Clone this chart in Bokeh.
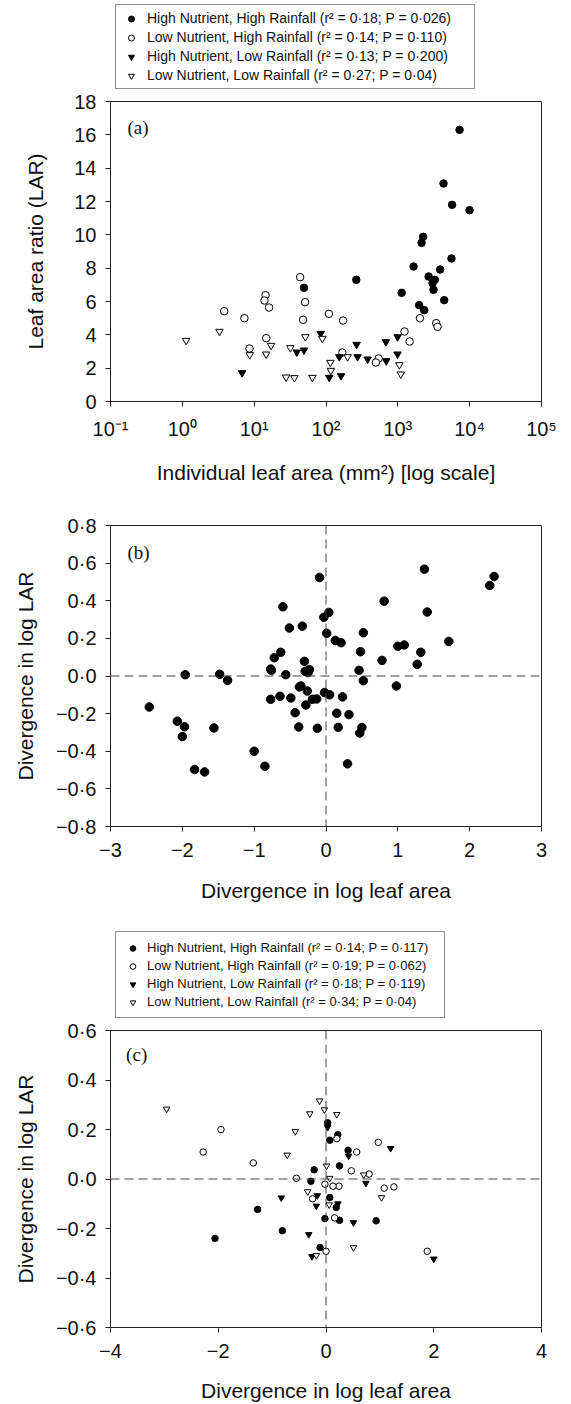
from bokeh.plotting import figure
from bokeh.layouts import column
from bokeh.models import (FixedTicker, CustomJSTickFormatter, Legend, LegendItem,
                          Span, Label, Range1d)
from bokeh.embed import file_html
from bokeh.resources import INLINE

# ---------------- Panel (a): LAR vs individual leaf area (mm2) ----------------
a_hnhr_area = [7230, 4325, 5700, 9950, 2250, 2140, 5580, 1655, 3880, 2680, 3270,
               3040, 3140, 4420, 1130, 1980, 2330, 264, 49.4]
a_hnhr_lar = [16.30, 13.08, 11.80, 11.48, 9.88, 9.52, 8.58, 8.10, 7.92, 7.50, 7.30,
              7.10, 6.70, 6.08, 6.52, 5.78, 5.48, 7.30, 6.82]

a_lnhr_area = [3.82, 7.31, 14.4, 13.9, 16.1, 43.6, 51.1, 47.9, 110, 173, 14.7, 8.6,
               169, 541, 495, 2030, 3420, 3570, 1240, 1460]
a_lnhr_lar = [5.42, 5.00, 6.38, 6.06, 5.64, 7.46, 5.96, 4.90, 5.26, 4.86, 3.80, 3.18,
              2.94, 2.58, 2.34, 5.00, 4.70, 4.48, 4.20, 3.60]

a_hnlr_area = [6.8, 39.2, 49.4, 84.3, 153, 267, 275, 380, 682, 690, 993, 990, 111, 162]
a_hnlr_lar = [1.72, 2.96, 3.08, 4.08, 2.68, 3.42, 2.68, 2.54, 3.58, 2.44, 3.88, 2.84,
              1.44, 1.54]

a_lnlr_area = [1.13, 3.29, 8.69, 14.7, 17.2, 31.9, 51.6, 88.9, 115, 117, 200, 27.8,
               36.3, 64.6, 1050, 1100]
a_lnlr_lar = [3.66, 4.20, 2.80, 2.84, 3.36, 3.22, 3.88, 3.78, 2.34, 1.86, 2.68, 1.46,
              1.42, 1.44, 2.20, 1.64]

a_labels = ["High Nutrient, High Rainfall (r\u00b2 = 0\u00b718; P = 0\u00b7026)",
            "Low Nutrient, High Rainfall (r\u00b2 = 0\u00b714; P = 0\u00b7110)",
            "High Nutrient, Low Rainfall (r\u00b2 = 0\u00b713; P = 0\u00b7200)",
            "Low Nutrient, Low Rainfall (r\u00b2 = 0\u00b727; P = 0\u00b704)"]
a_xticks = [0.1, 1, 10, 100, 1000, 10000, 100000]
a_yticks = [0, 2, 4, 6, 8, 10, 12, 14, 16, 18]

# ---------------- Panel (b): divergences (all species pairs) ----------------
b_dx = [-2.46, -1.96, -2.07, -1.97, -2.00, -1.56, -1.48, -1.37, -0.60, -0.51, -0.33,
        -0.72, -0.63, -0.77, -0.76, -0.56, -0.30, -0.29, -0.23, -0.25, -0.09, -0.03,
        0.04, 0.01, 0.13, 0.21, 0.52, 0.48, 0.46, 0.52, 0.81, 0.78, 1.00, 1.09, 0.98,
        1.37, 1.41, 1.32, 1.27, 1.71, 2.28, 2.34, -0.77, -0.64, -0.49, -0.37, -0.35,
        -0.26, -0.28, -0.19, -0.13, -0.43, -0.38, -0.12, -0.02, 0.05, 0.23, 0.15,
        0.32, 0.17, 0.50, 0.47, -1.00, -0.85, -1.83, -1.69, 0.30]
b_dy = [-0.165, 0.007, -0.24, -0.27, -0.322, -0.276, 0.009, -0.023, 0.368, 0.255,
        0.265, 0.097, 0.126, 0.037, 0.030, 0.007, 0.078, 0.025, 0.034, 0.018, 0.524,
        0.312, 0.338, 0.227, 0.189, 0.177, 0.230, 0.129, 0.030, -0.025, 0.398, 0.083,
        0.158, 0.165, -0.053, 0.568, 0.340, 0.126, 0.062, 0.184, 0.481, 0.529,
        -0.124, -0.108, -0.117, -0.058, -0.053, -0.080, -0.154, -0.124, -0.122,
        -0.195, -0.271, -0.278, -0.088, -0.100, -0.111, -0.198, -0.205, -0.273,
        -0.274, -0.303, -0.400, -0.480, -0.497, -0.510, -0.467]
b_xticks = [-3, -2, -1, 0, 1, 2, 3]
b_yticks = [-0.8, -0.6, -0.4, -0.2, 0.0, 0.2, 0.4, 0.6, 0.8]

# ---------------- Panel (c): divergences by habitat ----------------
c_hnhr_dx = [0.03, 0.22, 0.07, 0.41, -0.22, 0.25, -0.28, 0.07, 0.19, -1.27, -0.02,
             0.25, 0.93, -0.81, -2.06, -0.11]
c_hnhr_dy = [0.227, 0.179, 0.157, 0.116, 0.037, 0.053, -0.009, -0.075, -0.115,
             -0.123, -0.160, -0.167, -0.169, -0.209, -0.240, -0.277]
c_lnhr_dx = [-1.95, -2.28, -1.35, -0.55, -0.02, -0.25, 0.20, 0.57, 0.97, 0.47, 0.80,
             0.24, 0.13, 1.08, 1.26, 0.16, 0.00, 1.88]
c_lnhr_dy = [0.200, 0.109, 0.065, 0.003, -0.021, -0.080, 0.163, 0.109, 0.148, 0.033,
             0.020, -0.029, -0.029, -0.037, -0.032, -0.157, -0.292, -0.292]
c_hnlr_dx = [0.03, 0.42, 1.20, 0.74, -0.83, -0.16, -0.18, 0.22, -0.32, 0.51, -0.26,
             2.00]
c_hnlr_dy = [0.209, 0.093, 0.124, -0.017, -0.076, -0.067, -0.109, -0.100, -0.224,
             -0.176, -0.313, -0.323]
c_lnlr_dx = [-2.96, -0.12, -0.30, -0.03, 0.20, -0.57, -0.72, 0.01, 0.07, -0.34, 0.06,
             0.70, 1.03, 0.51, -0.18]
c_lnlr_dy = [0.283, 0.316, 0.264, 0.280, 0.261, 0.192, 0.097, 0.053, 0.003, -0.051,
             -0.104, 0.017, -0.075, -0.277, -0.309]
c_labels = ["High Nutrient, High Rainfall (r\u00b2 = 0\u00b714; P = 0\u00b7117)",
            "Low Nutrient, High Rainfall (r\u00b2 = 0\u00b719; P = 0\u00b7062)",
            "High Nutrient, Low Rainfall (r\u00b2 = 0\u00b718; P = 0\u00b7119)",
            "Low Nutrient, Low Rainfall (r\u00b2 = 0\u00b734; P = 0\u00b704)"]
c_xticks = [-4, -2, 0, 2, 4]
c_yticks = [-0.6, -0.4, -0.2, 0.0, 0.2, 0.4, 0.6]

# ---------------- styling helpers ----------------
SANS = "Liberation Sans"
SERIF = "Liberation Serif"
INK = "#222222"
W = 571
GROUP_STYLE = [("circle", "black"), ("circle", "white"),
               ("inverted_triangle", "black"), ("inverted_triangle", "white")]

dec_fmt = CustomJSTickFormatter(code="""
    return tick.toFixed(1).replace('-', '\u2212').replace('.', '\u00b7');
""")
int_fmt = CustomJSTickFormatter(code="""
    return tick.toFixed(0).replace('-', '\u2212');
""")
log_fmt = CustomJSTickFormatter(code="""
    const sup = {'-':'\u207b','0':'\u2070','1':'\u00b9','2':'\u00b2','3':'\u00b3',
                 '4':'\u2074','5':'\u2075','6':'\u2076','7':'\u2077','8':'\u2078','9':'\u2079'};
    const e = Math.round(Math.log10(tick));
    return '10' + String(e).split('').map(c => sup[c]).join('');
""")


def style(p, xstand, ystand):
    p.grid.visible = False
    p.outline_line_color = INK
    p.outline_line_width = 1
    p.outline_line_alpha = 1
    for ax in (p.xaxis[0], p.yaxis[0]):
        ax.axis_line_color = INK
        ax.major_tick_line_color = INK
        ax.major_tick_in = 0
        ax.major_tick_out = 5
        ax.minor_tick_line_color = None
        ax.major_label_text_font = SANS
        ax.major_label_text_font_size = "20px"
        ax.major_label_text_color = "#111111"
        ax.axis_label_text_font = SANS
        ax.axis_label_text_font_size = "21px"
        ax.axis_label_text_font_style = "normal"
        ax.axis_label_text_color = "#111111"
    p.xaxis[0].major_label_standoff = 11
    p.yaxis[0].major_label_standoff = 9
    p.xaxis[0].axis_label_standoff = xstand
    p.yaxis[0].axis_label_standoff = ystand


def add_groups(p, groups, size, visible=True):
    rs = []
    for (xs, ys), (marker, fill) in zip(groups, GROUP_STYLE):
        rs.append(p.scatter(xs, ys, marker=marker, size=size, line_color="black",
                            fill_color=fill, line_width=1, visible=visible))
    return rs


def legend_figure(labels, groups, height, font_size, gw, gh, lw, pad):
    """A bare strip holding only the legend box (placed above a panel).
    Its frame is aligned by the column with the panels' frames (left = 110)."""
    f = figure(width=W, height=height, x_range=Range1d(0, 1), y_range=Range1d(0, 1),
               output_backend="svg", toolbar_location=None,
               x_axis_location=None, y_axis_location=None,
               min_border_left=110, min_border_right=30,
               min_border_top=0, min_border_bottom=0)
    f.outline_line_color = None
    f.grid.visible = False
    # the legend keys reuse the panel's series (not drawn here)
    rs = add_groups(f, groups, 6, visible=False)
    leg = Legend(items=[LegendItem(label=l, renderers=[r]) for l, r in zip(labels, rs)],
                 location=(5, 1), orientation="vertical", click_policy="none",
                 label_text_font=SANS, label_text_font_size=font_size,
                 label_text_color="#111111",
                 glyph_width=gw, glyph_height=gh, label_height=gh, label_width=lw,
                 label_standoff=6, spacing=3, padding=pad, margin=0,
                 border_line_color=INK, border_line_width=1,
                 background_fill_color="white", background_fill_alpha=1)
    f.add_layout(leg, "center")
    return f


a_groups = [(a_hnhr_area, a_hnhr_lar), (a_lnhr_area, a_lnhr_lar),
            (a_hnlr_area, a_hnlr_lar), (a_lnlr_area, a_lnlr_lar)]
c_groups = [(c_hnhr_dx, c_hnhr_dy), (c_lnhr_dx, c_lnhr_dy),
            (c_hnlr_dx, c_hnlr_dy), (c_lnlr_dx, c_lnlr_dy)]

# ---------------- legend strip (a) ----------------
la = legend_figure(a_labels, a_groups, 90, "14px", 20, 15, 322, 5)

# ---------------- figure (a) ----------------
pa = figure(width=W, height=398, x_axis_type="log",
            x_range=Range1d(0.1, 100000), y_range=Range1d(0, 18),
            output_backend="svg", toolbar_location=None,
            min_border_left=110, min_border_right=30,
            min_border_top=11, min_border_bottom=87)
pa.xaxis.ticker = FixedTicker(ticks=a_xticks)
pa.xaxis.formatter = log_fmt
pa.yaxis.ticker = FixedTicker(ticks=a_yticks)
pa.xaxis.axis_label = "Individual leaf area (mm\u00b2) [log scale]"
pa.yaxis.axis_label = "Leaf area ratio (LAR)"
style(pa, 18, 24)
add_groups(pa, a_groups, 7.5)
pa.add_layout(Label(x=0.1726, y=16.42, text="(a)", text_font=SERIF,
                    text_font_size="19px", text_baseline="middle", text_color="#111111"))

# ---------------- figure (b) ----------------
pb = figure(width=W, height=420, x_range=Range1d(-3, 3), y_range=Range1d(-0.8, 0.8),
            output_backend="svg", toolbar_location=None,
            min_border_left=110, min_border_right=30,
            min_border_top=37, min_border_bottom=82)
pb.xaxis.ticker = FixedTicker(ticks=b_xticks)
pb.xaxis.formatter = int_fmt
pb.yaxis.ticker = FixedTicker(ticks=b_yticks)
pb.yaxis.formatter = dec_fmt
pb.xaxis.axis_label = "Divergence in log leaf area"
pb.yaxis.axis_label = "Divergence in log LAR"
style(pb, 19, 16)
for dim in ("width", "height"):
    pb.add_layout(Span(location=0, dimension=dim, line_color="#444444",
                       line_dash="9 5", line_width=1))
pb.scatter(b_dx, b_dy, marker="circle", size=8.5, fill_color="black",
           line_color="black")
pb.add_layout(Label(x=-2.763, y=0.657, text="(b)", text_font=SERIF,
                    text_font_size="19px", text_baseline="middle", text_color="#111111"))

# ---------------- legend strip (c) ----------------
lc = legend_figure(c_labels, c_groups, 111, "13px", 17, 14, 289, 8)

# ---------------- figure (c) ----------------
pc = figure(width=W, height=385, x_range=Range1d(-4, 4), y_range=Range1d(-0.6, 0.6),
            output_backend="svg", toolbar_location=None,
            min_border_left=110, min_border_right=30,
            min_border_top=11, min_border_bottom=74)
pc.xaxis.ticker = FixedTicker(ticks=c_xticks)
pc.xaxis.formatter = int_fmt
pc.yaxis.ticker = FixedTicker(ticks=c_yticks)
pc.yaxis.formatter = dec_fmt
pc.xaxis.axis_label = "Divergence in log leaf area"
pc.yaxis.axis_label = "Divergence in log LAR"
style(pc, 18, 16)
for dim in ("width", "height"):
    pc.add_layout(Span(location=0, dimension=dim, line_color="#444444",
                       line_dash="9 5", line_width=1))
add_groups(pc, c_groups, 6.5)
pc.add_layout(Label(x=-3.71, y=0.504, text="(c)", text_font=SERIF,
                    text_font_size="19px", text_baseline="middle", text_color="#111111"))

layout = column(la, pa, pb, lc, pc, spacing=0)
open("out.html", "w").write(file_html(layout, INLINE))
